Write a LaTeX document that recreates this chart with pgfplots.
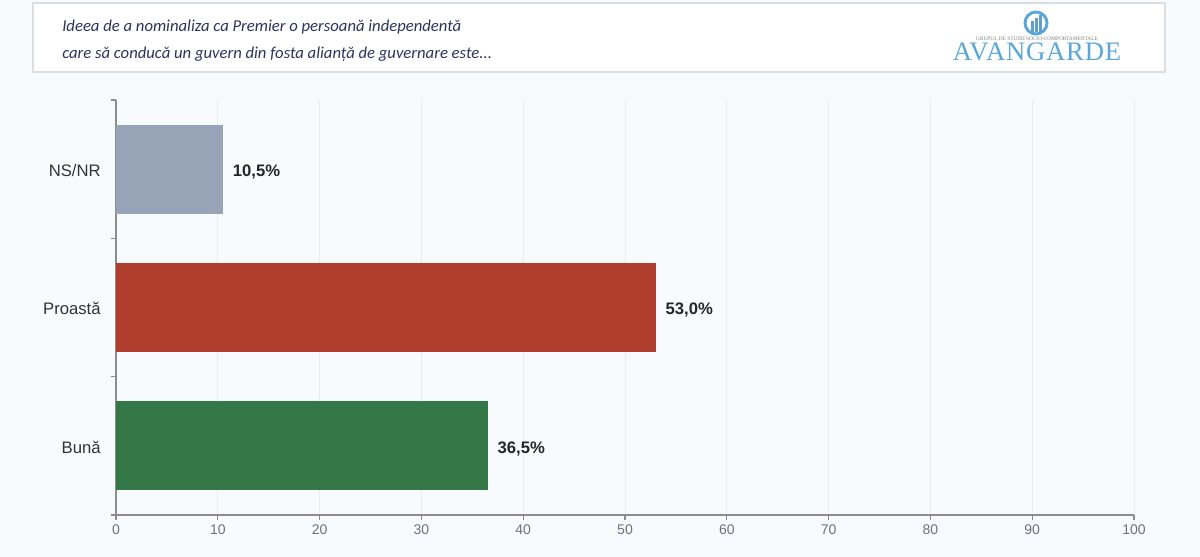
\documentclass[border=0pt]{standalone}
\usepackage{fontspec}
\setmainfont{Liberation Sans}
\newfontfamily\titlefont{Carlito}
\newfontfamily\logofont{Liberation Serif}
\usepackage{pgfplots}
\pgfplotsset{compat=1.18}
\definecolor{bg}{HTML}{F8FBFD}
\definecolor{boxborder}{HTML}{D9DEE3}
\definecolor{titlecol}{HTML}{2C3560}
\definecolor{logoblue}{HTML}{5AA6DA}
\definecolor{barGray}{HTML}{97A3B6}
\definecolor{barRed}{HTML}{B03E2E}
\definecolor{barGreen}{HTML}{357848}
\definecolor{gridcol}{HTML}{E9ECEF}
\definecolor{axiscol}{HTML}{8C8C8C}
\definecolor{tickcol}{HTML}{6B7280}
\definecolor{labcol}{HTML}{333333}
\begin{document}
\begin{tikzpicture}[x=0.75pt,y=0.75pt]
\fill[bg] (0,0) rectangle (1200,557);
\useasboundingbox (0,0) rectangle (1200,557);
\filldraw[fill=white,draw=boxborder,line width=0.9pt] (33,485) rectangle (1165,554);
\node[anchor=base west,font=\titlefont\itshape\fontsize{12.5}{14}\selectfont,text=titlecol,inner sep=0] at (62,525) {Ideea de a nominaliza ca Premier o persoană independentă};
\node[anchor=base west,font=\titlefont\itshape\fontsize{12.5}{14}\selectfont,text=titlecol,inner sep=0] at (62,498) {care să conducă un guvern din fosta alianță de guvernare este...};
% logo
\draw[logoblue,line width=2.2pt] (1036,534) circle (11);
\fill[logoblue!80!gray] (1031,525) rectangle (1033.5,536);
\fill[logoblue!80!gray] (1035,525) rectangle (1037.5,539);
\fill[logoblue!80!gray] (1039,525) rectangle (1041.5,542);
\node[font=\logofont\fontsize{4}{4}\selectfont,text=gray,inner sep=0] at (1037,518) {GRUPUL DE STUDII SOCIO-COMPORTAMENTALE};
\node[anchor=base,font=\logofont\fontsize{20}{20}\selectfont,text=logoblue,inner sep=0] at (1037,496) {\addfontfeature{LetterSpace=3}AVANGARDE};
\begin{axis}[
  at={(87pt,31.5pt)}, anchor=south west,
  scale only axis, width=763.5pt, height=311.25pt,
  xbar, bar shift=0pt, bar width=66.75pt,
  xmin=0, xmax=100, ymin=-0.5, ymax=2.5,
  xtick={0,10,...,100},
  ytick={0,1,2}, yticklabels={Bună,Proastă,NS/NR},
  minor ytick={-0.5,0.5,1.5,2.5},
  axis lines*=left,
  axis line style={axiscol,line width=0.9pt},
  tick align=outside,
  major tick length=4pt,
  minor tick length=4pt,
  major x tick style={axiscol,line width=0.9pt},
  minor y tick style={axiscol,line width=0.9pt},
  major y tick style={draw=none},
  xmajorgrids, grid style={gridcol,line width=0.6pt},
  x tick label style={font=\fontsize{10.5}{12}\selectfont,text=tickcol},
  y tick label style={font=\fontsize{12.5}{14}\selectfont,text=labcol,xshift=-4pt,yshift=-1pt},
  /pgf/number format/assume math mode=true,
  nodes near coords={\pgfmathprintnumber[fixed,fixed zerofill,precision=1,use comma]{\pgfplotspointmeta}\%},
  nodes near coords style={font=\bfseries\fontsize{12.5}{14}\selectfont,text=black!85,xshift=4pt,yshift=-2pt},
]
\addplot[fill=barGreen,draw=none] coordinates {(36.5,0)};
\addplot[fill=barRed,draw=none] coordinates {(53.0,1)};
\addplot[fill=barGray,draw=none] coordinates {(10.5,2)};
\end{axis}
\end{tikzpicture}
\end{document}
